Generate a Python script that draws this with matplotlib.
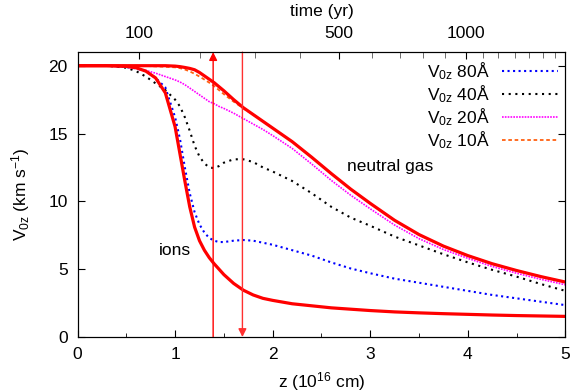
import matplotlib
matplotlib.use('Agg')
import matplotlib.pyplot as plt

plt.rcParams['font.family'] = ['Liberation Sans', 'DejaVu Sans']
plt.rcParams['mathtext.fontset'] = 'custom'
plt.rcParams['mathtext.rm'] = 'Liberation Sans'
plt.rcParams['mathtext.it'] = 'Liberation Sans:italic'
plt.rcParams['font.size'] = 12.5

# Position along the flow (10^16 cm), shared by all curves.
z = [0, 0.3, 0.5, 0.6, 0.7, 0.8, 0.9, 1.0, 1.05, 1.1, 1.15, 1.2, 1.25, 1.3, 1.35,
     1.4, 1.45, 1.5, 1.6, 1.7, 1.8, 1.9, 2.0, 2.2, 2.4, 2.6, 2.8, 3.0, 3.25, 3.5,
     3.75, 4.0, 4.25, 4.5, 4.75, 5.0]

# Velocities (km/s).
v_neutral = [20, 20, 20, 20, 20, 20, 20, 19.97, 19.93, 19.87, 19.8, 19.7, 19.5, 19.25, 19.0,
             18.75, 18.45, 18.15, 17.5, 16.9, 16.4, 15.9, 15.4, 14.4, 13.25, 12.05, 10.9, 9.85, 8.6, 7.55,
             6.7, 6.0, 5.4, 4.9, 4.45, 4.05]
v_ions = [20, 20, 19.95, 19.85, 19.6, 19.1, 18.0, 15.5, 13.5, 11.5, 9.6, 8.1, 7.1, 6.4, 5.85,
          5.4, 5.0, 4.6, 3.95, 3.45, 3.1, 2.85, 2.7, 2.45, 2.3, 2.15, 2.05, 1.95, 1.85, 1.78,
          1.72, 1.67, 1.62, 1.58, 1.55, 1.52]
v_80 = [20, 20, 19.9, 19.8, 19.6, 19.1, 18.4, 16.2, 14.6, 12.5, 10.6, 9.2, 8.3, 7.7, 7.3,
        7.1, 7.0, 7.0, 7.1, 7.15, 7.1, 6.95, 6.8, 6.4, 6.0, 5.5, 5.05, 4.7, 4.3, 4.0,
        3.7, 3.4, 3.1, 2.85, 2.6, 2.35]
v_40 = [20, 20, 19.85, 19.6, 19.2, 18.7, 18.2, 17.5, 17.0, 16.2, 15.2, 14.1, 13.3, 12.8, 12.5,
        12.45, 12.6, 12.85, 13.1, 13.1, 12.9, 12.5, 12.2, 11.5, 10.6, 9.6, 8.8, 8.2, 7.4, 6.75,
        6.1, 5.5, 4.95, 4.45, 3.9, 3.4]
v_20 = [20, 20, 19.9, 19.8, 19.65, 19.45, 19.2, 18.95, 18.8, 18.6, 18.35, 18.1, 17.85, 17.6, 17.35,
        17.2, 17.0, 16.85, 16.5, 16.1, 15.7, 15.3, 14.85, 13.9, 12.75, 11.55, 10.45, 9.45, 8.25, 7.25,
        6.45, 5.8, 5.2, 4.7, 4.25, 3.85]
v_10 = [20, 20, 20, 20, 19.98, 19.95, 19.92, 19.88, 19.82, 19.72, 19.58, 19.4, 19.2, 18.98, 18.75,
        18.5, 18.2, 17.9, 17.35, 16.85, 16.4, 15.9, 15.4, 14.4, 13.25, 12.05, 10.9, 9.85, 8.6, 7.55,
        6.7, 6.0, 5.4, 4.9, 4.45, 4.05]

# Marked positions (red arrows).
z_up = 1.39
z_down = 1.69

# Top axis: time (yr) and where it falls in z.
t_major = [100, 500, 1000]
z_t_major = [0.633, 2.679, 3.98]
z_t_minor = [1.255, 1.819, 2.28, 3.014, 3.304, 3.54, 3.77, 4.152, 4.311, 4.482, 4.629, 4.773, 4.892]

fig = plt.figure(figsize=(5.72, 3.92), dpi=100)
ax = fig.add_axes([0.1355, 0.1403, 0.853, 0.7267])

ax.plot(z, v_80, ':', color='#0000ff', lw=1.5, label='V$_{\\mathrm{0z}}$ 80Å')
ax.plot(z, v_40, ':', color='#000000', lw=1.5, dashes=(1, 2.2), label='V$_{\\mathrm{0z}}$ 40Å')
ax.plot(z, v_20, ':', color='#ff00ff', lw=1.2, dashes=(1, 0.7), label='V$_{\\mathrm{0z}}$ 20Å')
ax.plot(z, v_10, '--', color='#ff6010', lw=1.3, dashes=(2, 1.5), label='V$_{\\mathrm{0z}}$ 10Å')
ax.plot(z, v_neutral, '-', color='#ff0000', lw=2.3)
ax.plot(z, v_ions, '-', color='#ff0000', lw=2.3)

ax.annotate('', xy=(z_up, 21), xytext=(z_up, 0),
            arrowprops=dict(arrowstyle='-|>', color='#ff0000', lw=1, mutation_scale=12,
                            shrinkA=0, shrinkB=0))
ax.annotate('', xy=(z_down, 0), xytext=(z_down, 21),
            arrowprops=dict(arrowstyle='-|>', color='#ff3030', lw=1, mutation_scale=12,
                            shrinkA=0, shrinkB=0))

ax.text(1.0, 6.4, 'ions', ha='center', va='center')
ax.text(3.2, 12.6, 'neutral gas', ha='center', va='center')

ax.set_xlim(0, 5)
ax.set_ylim(0, 21)
ax.set_xticks([0, 1, 2, 3, 4, 5])
ax.set_xticks([0.5, 1.5, 2.5, 3.5, 4.5], minor=True)
ax.set_yticks([0, 5, 10, 15, 20])
ax.tick_params(which='both', direction='in', right=True, top=False)
ax.tick_params(which='major', length=5, pad=7)
ax.tick_params(which='minor', length=3)
ax.set_xlabel('z (10$^{16}$ cm)', labelpad=6)
ax.set_ylabel('V$_{\\mathrm{0z}}$ (km s$^{-1}$)', labelpad=12)

top = ax.twiny()
top.set_xlim(0, 5)
top.set_xticks(z_t_major)
top.set_xticklabels([str(t) for t in t_major])
top.set_xticks(z_t_minor, minor=True)
top.tick_params(which='both', direction='in')
top.tick_params(which='major', length=5, pad=8)
top.tick_params(which='minor', length=4, color='#555555')
top.set_xlabel('time (yr)', labelpad=7)

leg = ax.legend(loc='upper right', markerfirst=False, frameon=False, handlelength=3.2,
                labelspacing=0.08, borderaxespad=0.05, handletextpad=0.7)

fig.savefig('out.png', dpi=100)
